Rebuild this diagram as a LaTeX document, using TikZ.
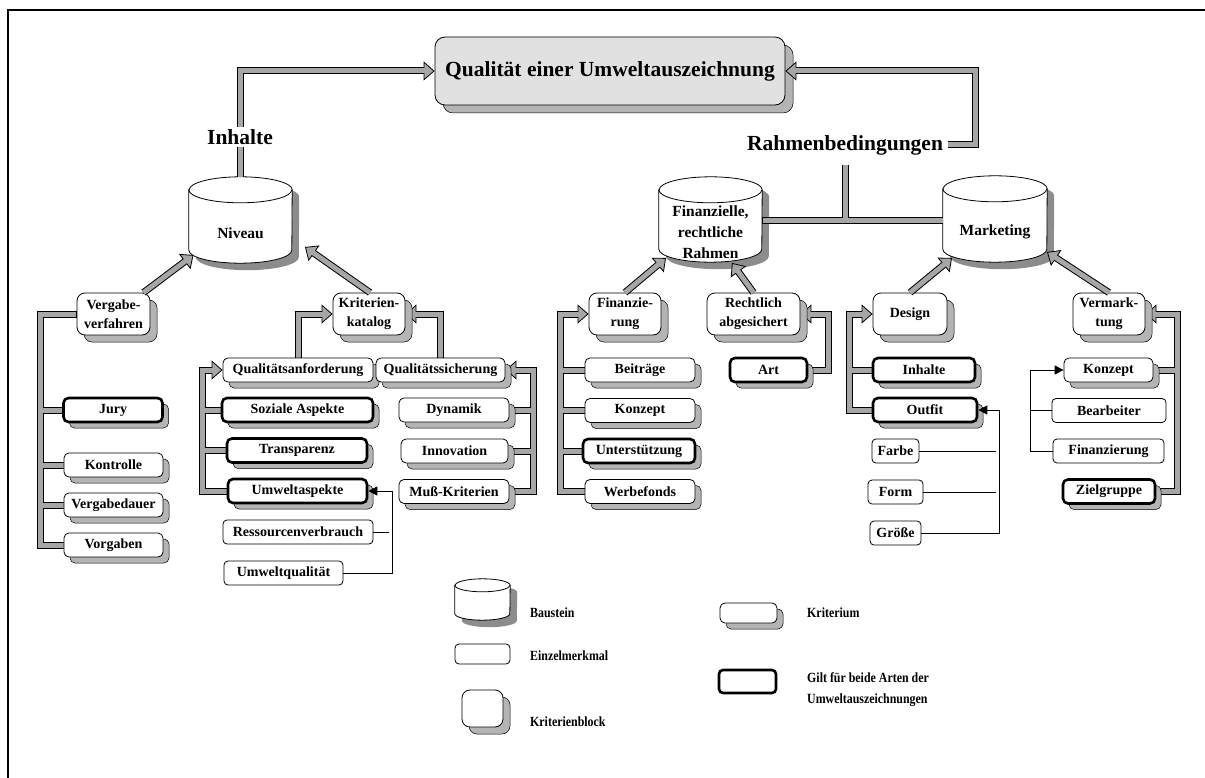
\documentclass[tikz,border=0pt]{standalone}
\usepackage{fontspec}
\setmainfont{Liberation Serif}
\newfontfamily\legFamily[FakeStretch=0.85]{Liberation Serif}
\usetikzlibrary{arrows.meta,positioning,calc,backgrounds,shadows}
\definecolor{barGray}{HTML}{A6A6A6}
\definecolor{shadeGray}{HTML}{B4B4B4}
\definecolor{titleFill}{HTML}{E1E1E1}
\definecolor{dropGray}{HTML}{8C8C8C}
\newcommand\boxFont{\fontsize{14}{19}\selectfont\bfseries}
\newcommand\bauFont{\fontsize{15.5}{21}\selectfont\bfseries}
\newcommand\headFont{\fontsize{21.5}{24}\selectfont\bfseries}
\newcommand\legFont{\legFamily\fontsize{14}{21}\selectfont\bfseries}
\tikzset{
  >=Latex,
  titleBox/.style={draw,fill=titleFill,rounded corners=10pt,line width=0.8pt,
                   inner sep=0pt,font=\headFont,
                   copy shadow={shadow xshift=8pt,shadow yshift=-8pt,fill=shadeGray,
                                draw=black,line width=0.5pt}},
  headLabel/.style={font=\headFont,inner sep=2pt},
  baustein/.style={rectangle,inner sep=0pt,align=center,font=\bauFont},
  bauFace/.style={draw,fill=white,line width=0.8pt,
                  drop shadow={shadow xshift=7pt,shadow yshift=-7pt,fill=dropGray,opacity=1}},
  block/.style={draw,fill=white,rounded corners=8pt,line width=0.8pt,
                minimum height=42pt,inner sep=0pt,align=center,font=\boxFont,
                copy shadow={shadow xshift=7pt,shadow yshift=-7pt,fill=shadeGray,
                             draw=black,line width=0.5pt}},
  krit/.style={draw,fill=white,rounded corners=5pt,line width=0.8pt,
               minimum height=24pt,inner sep=0pt,font=\boxFont,
               copy shadow={shadow xshift=6pt,shadow yshift=-6pt,fill=shadeGray,
                            draw=black,line width=0.5pt}},
  kritBold/.style={krit,line width=2.6pt},
  einzel/.style={draw,fill=white,rounded corners=4pt,line width=0.8pt,
                 minimum height=24pt,inner sep=0pt,font=\boxFont},
  legLabel/.style={font=\legFont,anchor=west,inner sep=0pt,align=left},
  fatLine/.style={line width=5pt,draw=barGray,shorten <=1pt,
                  preaction={draw=black,line width=7pt,shorten <=0pt}},
  fatArrow/.style={line width=5pt,draw=barGray,shorten >=9pt,
                   preaction={draw=black,line width=7pt,shorten >=0pt,
                     -{Triangle[length=11pt,width=19pt,fill=barGray,line width=0.8pt 0]}}},
  thinLine/.style={line width=1pt},
  thinArrow/.style={line width=1pt,-{Triangle[length=9pt,width=9pt]}},
}

\begin{document}
\begin{tikzpicture}[x=1pt,y=-1pt]
\useasboundingbox (0,0) rectangle (1205,778);
\draw[line width=1.8pt] (1205,10) -| (8,778);

% Kopf
\node[titleBox,minimum width=350pt,minimum height=68pt] (title) at (610,71)
  {Qualität einer Umweltauszeichnung};
\node[headLabel] (rahmen) at (845,145) {Rahmenbedingungen};

% Bausteine (Knoten = Zylinderkoerper unter der Deckelellipse)
\node[baustein,minimum width=103pt,minimum height=60pt] (niveau) at (240.5,233) {Niveau};
\node[baustein,minimum width=103pt,minimum height=59pt] (finanz) at (710.5,232.5)
  {Finanzielle,\\rechtliche\\Rahmen};
\node[baustein,minimum width=104pt,minimum height=60pt] (marketing) at (995,232) {Marketing};

% Kriterienbloecke
\node[block,minimum width=73pt] (vergabe)      at (113.5,314) {Vergabe-\\verfahren};
\node[block,minimum width=72pt] (katalog)      at (369,314)   {Kriterien-\\katalog};
\node[block,minimum width=72pt] (finanzierung) at (625,314)   {Finanzie-\\rung};
\node[block,minimum width=93pt] (rechtlich)    at (753.5,314) {Rechtlich\\abgesichert};
\node[block,minimum width=74pt] (design)       at (910,314)   {Design};
\node[block,minimum width=72pt] (vermarktung)  at (1109,314)  {Vermark-\\tung};

% Vergabeverfahren
\node[kritBold,minimum width=99pt] (jury)         at (113,410)   {Jury};
\node[krit,minimum width=99pt]     (kontrolle)    at (113.5,465) {Kontrolle};
\node[krit,minimum width=99pt]     (vergabedauer) at (113.5,505) {Vergabedauer};
\node[krit,minimum width=99pt]     (vorgaben)     at (113.5,545) {Vorgaben};

% Kriterienkatalog
\node[krit,minimum width=150pt]     (qanf)        at (298,370)   {Qualitätsanforderung};
\node[krit,minimum width=129pt]     (qsich)       at (440.5,370) {Qualitätssicherung};
\node[kritBold,minimum width=151pt] (soziale)     at (297.5,410) {Soziale Aspekte};
\node[kritBold,minimum width=140pt] (transparenz) at (297,450.5) {Transparenz};
\node[kritBold,minimum width=139pt] (umweltasp)   at (297.5,491) {Umweltaspekte};
\node[einzel,minimum width=150pt]   (ressourcen)  at (298,532)   {Ressourcenverbrauch};
\node[einzel,minimum width=119pt]   (umweltqual)  at (283.5,573) {Umweltqualität};
\node[krit,minimum width=110pt]     (dynamik)     at (454,410)   {Dynamik};
\node[krit,minimum width=107pt]     (innovation)  at (454.5,451) {Innovation};
\node[krit,minimum width=110pt]     (muss)        at (454,491.5) {Muß-Kriterien};

% Finanzierung, Rechtlich abgesichert
\node[krit,minimum width=110pt]     (beitraege)      at (640,370)   {Beiträge};
\node[krit,minimum width=110pt]     (konzeptF)       at (640,410.5) {Konzept};
\node[kritBold,minimum width=112pt] (unterstuetzung) at (639,451)   {Unterstützung};
\node[krit,minimum width=110pt]     (werbefonds)     at (640,491.5) {Werbefonds};
\node[kritBold,minimum width=77pt]  (art)            at (768.5,370) {Art};

% Design
\node[kritBold,minimum width=102pt] (inhalteD) at (924,370)   {Inhalte};
\node[kritBold,minimum width=104pt] (outfit)   at (925,410)   {Outfit};
\node[einzel,minimum width=47pt]    (farbe)    at (895.5,451) {Farbe};
\node[einzel,minimum width=55pt]    (form)     at (895.5,492) {Form};
\node[einzel,minimum width=51pt]    (groesse)  at (895.5,533) {Größe};

% Vermarktung
\node[krit,minimum width=89pt]     (konzeptV)   at (1108.5,370) {Konzept};
\node[einzel,minimum width=114pt]  (bearbeiter) at (1109,410.5) {Bearbeiter};
\node[einzel,minimum width=111pt]  (finanzV)    at (1108.5,451) {Finanzierung};
\node[kritBold,minimum width=92pt] (zielgruppe) at (1109,491.5) {Zielgruppe};

% Legende
\node[baustein,minimum width=55pt,minimum height=28pt] (legBau) at (482.5,606) {};
\node[einzel,minimum width=55pt,minimum height=20pt] (legEinzel) at (482.5,654) {};
\node[block,minimum width=41pt,minimum height=37pt] (legBlock) at (482.5,708.5) {};
\node[krit,minimum width=57pt,minimum height=20pt] (legKrit) at (748.5,613) {};
\node[einzel,line width=2.6pt,minimum width=57pt,minimum height=23pt] (legBold) at (747.5,681.5) {};
\node[legLabel] at (530,613) {Baustein};
\node[legLabel] at (530,656) {Einzelmerkmal};
\node[legLabel] at (530,722) {Kriterienblock};
\node[legLabel] at (807,613) {Kriterium};
\node[legLabel] at (807,690) {Gilt für beide Arten der\\Umweltauszeichnungen};

\coordinate (vgx) at ([xshift=-36pt]vergabe.west);
\coordinate (qax) at ([xshift=-20pt]qanf.west);
\coordinate (qsx) at ([xshift=28pt]qsich.east);
\coordinate (fzx) at ([xshift=-28pt]finanzierung.west);
\coordinate (rax) at ([xshift=28pt]rechtlich.east);
\coordinate (dsx) at ([xshift=-23pt]design.west);
\coordinate (vmx) at ([xshift=32pt]vermarktung.east);
\begin{scope}[on background layer]
  % Zylinder hinter den Bausteinknoten
  \foreach \n/\rx/\ry in {niveau/51.5/13,finanz/51.5/13,marketing/52/13,legBau/27.5/6.5} {
    \draw[bauFace] ([yshift=\ry pt]\n.north west) -- ([yshift=\ry pt]\n.south west)
      arc[start angle=180,end angle=360,x radius=\rx pt,y radius=\ry pt]
      -- ([yshift=\ry pt]\n.north east)
      arc[start angle=0,end angle=180,x radius=\rx pt,y radius=\ry pt] -- cycle;
    \draw[line width=0.8pt] ([yshift=\ry pt]\n.north west)
      arc[start angle=180,end angle=360,x radius=\rx pt,y radius=\ry pt];
  }
  % Sammelschienen hinter den Kaesten
  \draw[fatLine] (jury.west) -- (jury.west -| vgx)
    (kontrolle.west) -- (kontrolle.west -| vgx)
    (vergabedauer.west) -- (vergabedauer.west -| vgx)
    (vergabe.west) -- (vgx) |- (vorgaben.west);
  \draw[fatArrow] (qanf.north) |- (katalog.west);
  \draw[fatArrow] (qsich.north) |- (katalog.east);
  \draw[fatArrow] (soziale.west) -- (soziale.west -| qax)
    (transparenz.west) -- (transparenz.west -| qax)
    (umweltasp.west) -| (qax) -- (qanf.west);
  \draw[fatArrow] (dynamik.east) -- (dynamik.east -| qsx)
    (innovation.east) -- (innovation.east -| qsx)
    (muss.east) -| (qsx) -- (qsich.east);
  \draw[fatArrow] (beitraege.west) -- (beitraege.west -| fzx)
    (konzeptF.west) -- (konzeptF.west -| fzx)
    (unterstuetzung.west) -- (unterstuetzung.west -| fzx)
    (werbefonds.west) -| (fzx) -- (finanzierung.west);
  \draw[fatArrow] (art.east) -| (rax) -- (rechtlich.east);
  \draw[fatArrow] (inhalteD.west) -- (inhalteD.west -| dsx)
    (outfit.west) -| (dsx) -- (design.west);
  \draw[fatArrow] (konzeptV.east) -- (konzeptV.east -| vmx)
    (zielgruppe.east) -| (vmx) -- (vermarktung.east);
\end{scope}

% Pfeile zu den Bausteinen
\draw[fatArrow] ([xshift=30pt]vergabe.north) -- ([xshift=-47pt,yshift=-22pt]niveau.center);
\draw[fatArrow] ([xshift=1pt]katalog.north) -- ([xshift=64.5pt,yshift=-14pt]niveau.center);
\draw[fatArrow] (finanzierung.north) -- ([xshift=-44.5pt,yshift=-25.5pt]finanz.center);
\draw[fatArrow] (rechtlich.north) -- ([xshift=21.5pt,yshift=-30.5pt]finanz.center);
\draw[fatArrow] (design.north) -- ([xshift=-43pt,yshift=-26pt]marketing.center);
\draw[fatArrow] (vermarktung.north) -- ([xshift=52pt,yshift=-20pt]marketing.center);

% Inhalte und Rahmenbedingungen
\coordinate (tJoin) at (845,221);
\coordinate (rkStart) at ([xshift=3pt]rahmen.east);
\coordinate (rkBend) at ([xshift=30pt]rahmen.east);
\draw[fatLine] ([yshift=-8pt]rahmen.south) -- (tJoin)
  (finanz.east |- tJoin) -- (marketing.west |- tJoin);
\draw[fatArrow] ([yshift=26pt]niveau.north) |- (title.west);
\draw[fatArrow] (rkStart) -- (rkBend) |- (title.east);
\node[headLabel,fill=white] (lblInhalte) at (240,137) {Inhalte};

% Einzelmerkmale
\coordinate (uqx) at ([xshift=24pt]umweltasp.east);
\coordinate (ofx) at ([xshift=21pt]outfit.east);
\coordinate (kbx) at ([xshift=-33pt]konzeptV.west);
\draw[thinArrow] (umweltqual.east) -| (uqx) -- (umweltasp.east);
\draw[thinLine] (ressourcen.east) -- ([xshift=-3pt]ressourcen.east -| uqx);
\draw[thinArrow] (groesse.east) -| (ofx) -- (outfit.east);
\draw[thinLine] (farbe.east) -- ([xshift=-3pt]farbe.east -| ofx);
\draw[thinLine] (form.east) -- ([xshift=-3pt]form.east -| ofx);
\draw[thinArrow] (finanzV.west) -| (kbx) -- (konzeptV.west);
\draw[thinLine] (bearbeiter.west) -- (bearbeiter.west -| kbx);
\end{tikzpicture}
\end{document}
